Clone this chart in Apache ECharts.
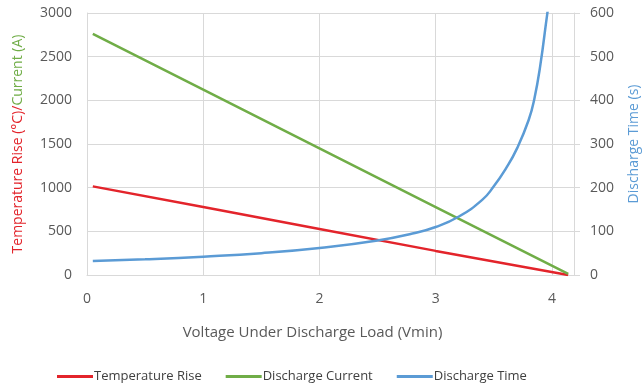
<!DOCTYPE html>
<html>
<head>
<meta charset="utf-8">
<script src="https://cdn.jsdelivr.net/npm/echarts@6/dist/echarts.min.js"></script>
<style>
html, body { margin: 0; padding: 0; background: #fff; }
#main { width: 642px; height: 388px; }
</style>
</head>
<body>
<div id="main"></div>
<script>
// values
var tempRise = [[0.05, 1015], [1, 778], [2, 527], [3, 276], [4.14, 0]];
var dischargeCurrent = [[0.05, 2760], [1, 2122], [2, 1450], [3, 778], [4.14, 12]];
var dischargeTime = [
	[0.05, 32], [0.5, 36], [1.0, 42], [1.5, 50], [2.0, 62], [2.5, 79], [2.8, 95],
	[3.0, 110], [3.2, 134], [3.4, 172], [3.5, 203], [3.6, 242], [3.7, 290],
	[3.8, 355], [3.85, 405], [3.9, 480], [3.96, 598], [4.0, 670]
];
var seriesNames = ["Temperature Rise", "Discharge Current", "Discharge Time"];

var font = "'Open Sans', sans-serif",
	gridColor = "#d9d9d9",
	labelColor = "#595959",
	red = "#e3242b",
	green = "#70ad47",
	blue = "#5b9bd5";

var chart = echarts.init(document.getElementById("main"), null, { renderer: "canvas" });

var opt = {
	animation: false,
	textStyle: { fontFamily: font },
	color: [red, green, blue],
	grid: {
		left: 87,
		right: 68,
		top: 13,
		bottom: 113,
		containLabel: false,
		outerBoundsMode: "none"
	},
	legend: {
		bottom: 0,
		left: 52,
		data: seriesNames,
		icon: "rect",
		itemWidth: 36,
		itemHeight: 3,
		itemGap: 24,
		textStyle: {
			fontFamily: font,
			fontSize: 13,
			color: "#404040",
			padding: [0, 0, 0, -4]
		}
	},
	xAxis: {
		type: "value",
		min: 0,
		max: 4.19,
		interval: 1,
		name: "Voltage Under Discharge Load (Vmin)",
		nameLocation: "middle",
		nameGap: 50,
		nameTextStyle: { color: labelColor, fontSize: 15, fontFamily: font, padding: [0, 36, 0, 0] },
		axisLine: { show: true, lineStyle: { color: gridColor } },
		axisTick: { show: false },
		axisLabel: {
			color: labelColor,
			fontSize: 14,
			margin: 17,
			formatter: function(value) {
				return Math.abs(value - Math.round(value)) < 1e-6 ? String(Math.round(value)) : "";
			}
		},
		splitLine: { show: true, lineStyle: { color: gridColor } }
	},
	yAxis: [
		{
			type: "value",
			min: 0,
			max: 3000,
			interval: 500,
			position: "left",
			name: "{r|Temperature Rise (\u00b0C)/}{g|Current (A)}",
			nameLocation: "middle",
			nameGap: 62,
			nameTextStyle: {
				fontSize: 14,
				rich: {
					r: { color: red, fontSize: 14, fontFamily: font },
					g: { color: green, fontSize: 14, fontFamily: font }
				}
			},
			axisLine: { show: true, lineStyle: { color: gridColor } },
			axisTick: { show: false },
			axisLabel: {
				color: labelColor,
				fontSize: 14,
				margin: 15,
				formatter: function(value) { return String(value); }
			},
			splitLine: { show: true, lineStyle: { color: gridColor } }
		},
		{
			type: "value",
			min: 0,
			max: 600,
			interval: 100,
			position: "right",
			name: "Discharge Time (s)",
			nameLocation: "middle",
			nameGap: 53,
			nameRotate: 90,
			nameTextStyle: { color: blue, fontSize: 14, fontFamily: font },
			axisLine: { show: true, lineStyle: { color: gridColor } },
			axisTick: { show: true, length: 6, lineStyle: { color: gridColor } },
			axisLabel: { color: labelColor, fontSize: 14, margin: 16 },
			splitLine: { show: false }
		}
	],
	series: [
		{
			name: seriesNames[0],
			type: "line",
			yAxisIndex: 0,
			data: tempRise,
			showSymbol: false,
			lineStyle: { width: 2.5, color: red },
			itemStyle: { color: red }
		},
		{
			name: seriesNames[1],
			type: "line",
			yAxisIndex: 0,
			data: dischargeCurrent,
			showSymbol: false,
			lineStyle: { width: 2.5, color: green },
			itemStyle: { color: green }
		},
		{
			name: seriesNames[2],
			type: "line",
			yAxisIndex: 1,
			data: dischargeTime,
			smooth: 0.5,
			showSymbol: false,
			clip: true,
			lineStyle: { width: 2.5, color: blue },
			itemStyle: { color: blue }
		}
	]
};

chart.setOption(opt);
</script>
</body>
</html>
